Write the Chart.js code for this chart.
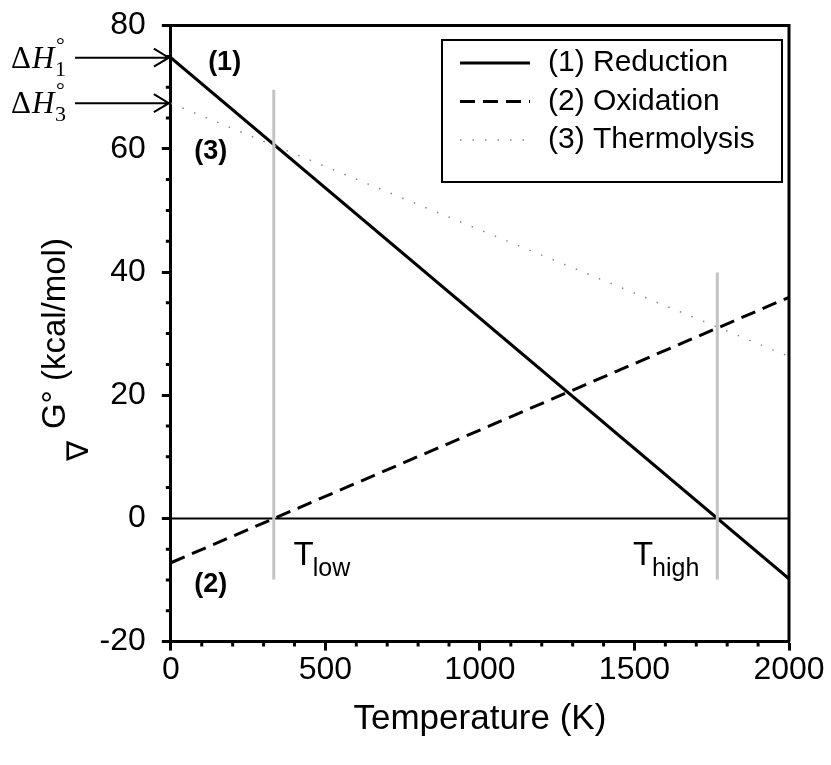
<!DOCTYPE html>
<html>
<head>
<meta charset="utf-8">
<script src="https://cdn.jsdelivr.net/npm/chart.js@4"></script>
<style>
  body { margin: 0; background: #fff; }
  #wrap { width: 831px; height: 765px; }
</style>
</head>
<body>
<div id="wrap"><canvas id="gibbs" width="831" height="765"></canvas></div>
<script>
// values (temperature in K, dG in kcal/mol)
const temps = [0, 2000];
const reduction = [74.8, -9.8];
const oxidation = [-7.2, 35.9];
const thermolysis = [67.4, 26.3];
const zeroLine = [0, 0];

const tLow = 333;
const tHigh = 1768;
const tLowSpan = [69.6, -9.9];
const tHighSpan = [39.9, -9.9];

const xTicks = [0, 500, 1000, 1500, 2000];
const yTicks = [-20, 0, 20, 40, 60, 80];

const FONT = "'Liberation Sans', Arial, sans-serif";

function pairs(xs, ys) {
  return xs.map((x, i) => ({ x: x, y: ys[i] }));
}

const thermoDash = [1.5, 11];
const oxDash = [15, 8];

// minor ticks, frame, labels, arrows, legend
const extras = {
  id: "extras",
  afterDraw(chart) {
    const ctx = chart.ctx;
    const xs = chart.scales.x;
    const ys = chart.scales.y;
    const a = chart.chartArea;
    ctx.save();

    // frame top + right
    ctx.strokeStyle = "#000";
    ctx.lineWidth = 3;
    ctx.beginPath();
    ctx.moveTo(a.left, a.top);
    ctx.lineTo(a.right, a.top);
    ctx.lineTo(a.right, a.bottom);
    ctx.stroke();

    // minor ticks
    ctx.beginPath();
    for (let v = -20; v <= 80; v += 5) {
      if (v % 20 === 0) continue;
      const y = ys.getPixelForValue(v);
      ctx.moveTo(a.left - 5, y);
      ctx.lineTo(a.left, y);
    }
    for (let v = 0; v <= 2000; v += 100) {
      if (v % 500 === 0) continue;
      const x = xs.getPixelForValue(v);
      ctx.moveTo(x, a.bottom);
      ctx.lineTo(x, a.bottom + 5);
    }
    ctx.stroke();

    // bold curve labels
    ctx.fillStyle = "#000";
    ctx.font = "bold 27px " + FONT;
    ctx.textAlign = "center";
    ctx.textBaseline = "middle";
    ctx.fillText("(1)", xs.getPixelForValue(174), ys.getPixelForValue(74));
    ctx.fillText("(3)", xs.getPixelForValue(129), ys.getPixelForValue(59.6));
    ctx.fillText("(2)", xs.getPixelForValue(129), ys.getPixelForValue(-10.8));

    // T_low / T_high
    ctx.textAlign = "left";
    ctx.textBaseline = "alphabetic";
    function tLabel(text, sub, tx, ty) {
      const x = xs.getPixelForValue(tx);
      const y = ys.getPixelForValue(ty);
      ctx.font = "33px " + FONT;
      ctx.fillText(text, x, y);
      const w = ctx.measureText(text).width;
      ctx.font = "25px " + FONT;
      ctx.fillText(sub, x + w - 1, y + 11);
    }
    tLabel("T", "low", 397, -7.5);
    tLabel("T", "high", 1495, -7.5);

    // rotated nabla below the y title
    ctx.save();
    ctx.translate(80, 451);
    ctx.rotate(-Math.PI / 2);
    ctx.font = "30px 'DejaVu Sans', sans-serif";
    ctx.textAlign = "center";
    ctx.textBaseline = "middle";
    ctx.fillText("\u2207", 0, 0);
    ctx.restore();

    // dH labels with arrows to the axis
    function dH(sub, val) {
      const y = ys.getPixelForValue(val);
      ctx.font = "31px 'Liberation Serif', serif";
      ctx.textAlign = "left";
      ctx.textBaseline = "alphabetic";
      ctx.fillText("\u0394", 11, y + 10);
      ctx.font = "italic 31px 'Liberation Serif', serif";
      ctx.fillText("H", 32, y + 10);
      ctx.font = "22px 'Liberation Serif', serif";
      ctx.fillText(sub, 55, y + 18);
      ctx.fillText("\u00b0", 56, y - 6);
      ctx.lineWidth = 2;
      ctx.beginPath();
      ctx.moveTo(75, y);
      ctx.lineTo(a.left - 2, y);
      ctx.moveTo(a.left - 17, y - 9);
      ctx.lineTo(a.left - 2, y);
      ctx.lineTo(a.left - 17, y + 9);
      ctx.stroke();
    }
    dH("1", reduction[0]);
    dH("3", thermolysis[0]);

    // legend box
    const lx = 442, ly = 40, lw = 340, lh = 142;
    ctx.lineWidth = 2;
    ctx.strokeStyle = "#000";
    ctx.strokeRect(lx, ly, lw, lh);
    const rows = [
      { text: "(1) Reduction", dash: [], width: 3, color: "#000" },
      { text: "(2) Oxidation", dash: oxDash, width: 3, color: "#000" },
      { text: "(3) Thermolysis", dash: thermoDash, width: 1.5, color: "#888" }
    ];
    ctx.font = "30px " + FONT;
    ctx.textBaseline = "middle";
    rows.forEach((r, i) => {
      const y = ly + 23 + i * 38.5;
      ctx.setLineDash(r.dash);
      ctx.lineWidth = r.width;
      ctx.strokeStyle = r.color;
      ctx.beginPath();
      ctx.moveTo(460, y);
      ctx.lineTo(530, y);
      ctx.stroke();
      ctx.setLineDash([]);
      ctx.fillStyle = "#000";
      ctx.fillText(r.text, 548, y);
    });

    ctx.restore();
  }
};

new Chart(document.getElementById("gibbs"), {
  type: "line",
  data: {
    datasets: [
      {
        label: "T low marker",
        data: pairs([tLow, tLow], tLowSpan),
        borderColor: "#c3c3c3",
        borderWidth: 3
      },
      {
        label: "T high marker",
        data: pairs([tHigh, tHigh], tHighSpan),
        borderColor: "#c3c3c3",
        borderWidth: 3
      },
      {
        label: "zero",
        data: pairs(temps, zeroLine),
        borderColor: "#000",
        borderWidth: 2
      },
      {
        label: "(3) Thermolysis",
        data: pairs(temps, thermolysis),
        borderColor: "#888",
        borderWidth: 1.5,
        borderDash: thermoDash
      },
      {
        label: "(2) Oxidation",
        data: pairs(temps, oxidation),
        borderColor: "#000",
        borderWidth: 3,
        borderDash: oxDash
      },
      {
        label: "(1) Reduction",
        data: pairs(temps, reduction),
        borderColor: "#000",
        borderWidth: 3
      }
    ]
  },
  options: {
    responsive: false,
    animation: false,
    elements: { point: { radius: 0 } },
    layout: { padding: { left: 36, right: 42, top: 0, bottom: 25 } },
    plugins: {
      legend: { display: false },
      tooltip: { enabled: false }
    },
    scales: {
      x: {
        type: "linear",
        min: 0,
        max: 2000,
        afterBuildTicks: (s) => { s.ticks = xTicks.map(v => ({ value: v })); },
        ticks: {
          color: "#000",
          font: { family: FONT, size: 32 },
          padding: 0,
          callback: (v) => String(v)
        },
        grid: { drawOnChartArea: false, color: "#000", tickLength: 9, tickWidth: 3 },
        border: { color: "#000", width: 3 },
        title: {
          display: true,
          text: "Temperature (K)",
          color: "#000",
          font: { family: FONT, size: 35 },
          padding: { top: 9, bottom: 0 }
        }
      },
      y: {
        min: -20,
        max: 80,
        afterBuildTicks: (s) => { s.ticks = yTicks.map(v => ({ value: v })); },
        ticks: {
          color: "#000",
          font: { family: FONT, size: 32, lineHeight: 0.6 },
          padding: 16,
          callback: (v) => String(v)
        },
        grid: { drawOnChartArea: false, color: "#000", tickLength: 9, tickWidth: 3 },
        border: { color: "#000", width: 3 },
        title: {
          display: true,
          text: "G\u00b0 (kcal/mol)",
          color: "#000",
          font: { family: FONT, size: 33 },
          padding: { top: 0, bottom: 8 }
        }
      }
    }
  },
  plugins: [extras]
});
</script>
</body>
</html>
